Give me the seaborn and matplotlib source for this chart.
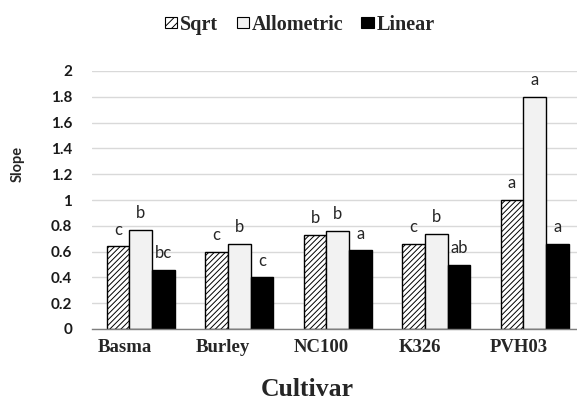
import numpy as np
import pandas as pd
import seaborn as sns
import matplotlib
matplotlib.use("Agg")
import matplotlib.pyplot as plt
import matplotlib.transforms as mtransforms
from matplotlib.patches import Patch

# data
cultivars = ["Basma", "Burley", "NC100", "K326", "PVH03"]
models = ["Sqrt", "Allometric", "Linear"]
sqrt_slope = [0.64, 0.60, 0.73, 0.66, 1.00]
allo_slope = [0.77, 0.66, 0.76, 0.74, 1.80]
linear_slope = [0.46, 0.40, 0.61, 0.50, 0.66]
sqrt_letters = ["c", "c", "b", "c", "a"]
allo_letters = ["b", "b", "b", "b", "a"]
linear_letters = ["bc", "c", "a", "ab", "a"]

df = pd.DataFrame({
    "Cultivar": cultivars * 3,
    "Model": ["Sqrt"] * 5 + ["Allometric"] * 5 + ["Linear"] * 5,
    "Slope": sqrt_slope + allo_slope + linear_slope,
})
letters = [sqrt_letters, allo_letters, linear_letters]

faces = ["white", "#f2f2f2", "black"]
hatches = ["//////", "", ""]

sns.set_style("white")
plt.rcParams["hatch.linewidth"] = 0.7

fig = plt.figure(figsize=(5.77, 3.99), dpi=100)
ax = fig.add_axes([91.5 / 577, 1 - 329 / 399, 5 * 98.5 / 577, 258 / 399])

sns.barplot(data=df, x="Cultivar", y="Slope", hue="Model", order=cultivars,
            hue_order=models, width=0.69, ax=ax, legend=False, errorbar=None)

for k, cont in enumerate(ax.containers):
    for j, bar in enumerate(cont.patches):
        bar.set_facecolor(faces[k])
        bar.set_edgecolor("black")
        bar.set_linewidth(1.0)
        bar.set_hatch(hatches[k])
        ax.annotate(letters[k][j], (bar.get_x() + bar.get_width() / 2, bar.get_height()),
                    xytext=(0, 8.5), textcoords="offset points", ha="center", va="baseline",
                    fontsize=12, family="Lato", color="#262626")

ax.set_xlim(-0.5, 4.5)
ax.set_ylim(0, 2)
ax.set_yticks(np.arange(0, 2.01, 0.2))
ax.set_yticklabels(["0", "0.2", "0.4", "0.6", "0.8", "1", "1.2", "1.4", "1.6", "1.8", "2"],
                   fontsize=11, fontweight="bold", family="Lato", color="#1a1a1a")
ax.tick_params(axis="y", length=0, pad=14)
ax.yaxis.grid(True, color="#d9d9d9", linewidth=1)
ax.set_axisbelow(True)

ax.set_xticks(range(5))
ax.set_xticklabels(cultivars, fontsize=13.5, fontweight="bold", family="Liberation Serif")
ax.tick_params(axis="x", which="major", length=0, pad=7)
ax.set_xticks(np.arange(-0.5, 4.5, 1), minor=True)
ax.tick_params(axis="x", which="minor", length=5, width=1, color="#7f7f7f", direction="out")
shift = mtransforms.ScaledTranslation(-16 / 100, 0, fig.dpi_scale_trans)
for lab in ax.get_xticklabels():
    lab.set_transform(lab.get_transform() + shift)

for s in ["top", "right", "left"]:
    ax.spines[s].set_visible(False)
ax.spines["bottom"].set_color("#7f7f7f")
ax.spines["bottom"].set_linewidth(1)
ax.set_xlabel("")
ax.set_ylabel("")

fig.text(307 / 577, 1 - 389 / 399, "Cultivar", ha="center", va="center",
         fontsize=18.5, fontweight="bold", family="Liberation Serif")
fig.text(18 / 577, 1 - 164 / 399, "Slope", ha="center", va="center", rotation=90,
         fontsize=10.5, fontweight="bold", family="Lato")

handles = [Patch(facecolor=faces[k], edgecolor="black", hatch="////" if k == 0 else "",
                 linewidth=0.8)
           for k in range(3)]
fig.legend(handles, models, loc="center", bbox_to_anchor=(300 / 577, 1 - 25 / 399),
           ncol=3, frameon=False, handlelength=0.6, handleheight=0.45, handletextpad=0.15,
           columnspacing=0.9, prop={"family": "Liberation Serif", "weight": "bold", "size": 14.5})

fig.savefig("out.png", dpi=100)
